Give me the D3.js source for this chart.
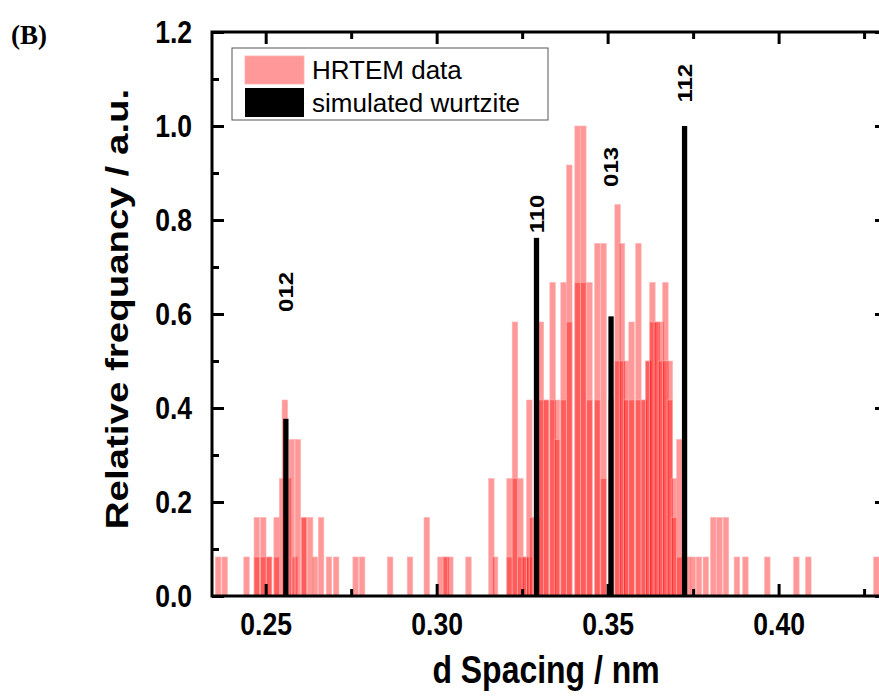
<!DOCTYPE html>
<html>
<head>
<meta charset="utf-8">
<script src="https://cdn.jsdelivr.net/npm/d3@7"></script>
<style>
body { margin: 0; background: #fff; }
</style>
</head>
<body>
<svg id="chart" width="879" height="698" font-family="Arial, 'Liberation Sans', Helvetica, sans-serif"></svg>
<script>
// HRTEM d spacings (nm) and relative frequency. Bars are translucent and
// some bins carry two entries, which is what makes the darker cores.
const hrtemD = [
    0.2361, 0.2380, 0.2444, 0.2474, 0.2474, 0.2493, 0.2493, 0.2510, 0.2510,
    0.2532, 0.2532, 0.2548, 0.2556, 0.2566, 0.2576, 0.2585, 0.2594, 0.2612,
    0.2612, 0.2630, 0.2644, 0.2662, 0.2685, 0.2706, 0.2763, 0.2782,
    0.2864, 0.2922, 0.2971, 0.3011, 0.3027, 0.3027, 0.3040, 0.3093, 0.3160,
    0.3171,
    0.3213, 0.3213, 0.3229, 0.3229, 0.3245, 0.3245, 0.3258, 0.3258, 0.3271,
    0.3271, 0.3279, 0.3292, 0.3305, 0.3305, 0.3320, 0.3320, 0.3339, 0.3339,
    0.3352, 0.3352, 0.3371, 0.3371, 0.3388, 0.3388, 0.3412, 0.3412, 0.3429,
    0.3429, 0.3447, 0.3447, 0.3470, 0.3470, 0.3488, 0.3488, 0.3510, 0.3529,
    0.3529, 0.3542, 0.3542, 0.3554, 0.3554, 0.3570, 0.3570, 0.3590, 0.3590,
    0.3606, 0.3606, 0.3619, 0.3619, 0.3631, 0.3631, 0.3644, 0.3644, 0.3656,
    0.3656, 0.3669, 0.3669, 0.3682, 0.3682, 0.3694, 0.3694, 0.3710, 0.3710,
    0.3735, 0.3749, 0.3767, 0.3787, 0.3809, 0.3827, 0.3846, 0.3878, 0.3903,
    0.3967, 0.4052, 0.4087, 0.4286
];
const hrtemF = [
    0.083, 0.083, 0.083, 0.167, 0.083, 0.167, 0.083, 0.083, 0.083,
    0.167, 0.083, 0.25, 0.417, 0.25, 0.333, 0.083, 0.333, 0.167,
    0.167, 0.167, 0.083, 0.167, 0.083, 0.083, 0.083, 0.083,
    0.083, 0.083, 0.167, 0.083, 0.083, 0.083, 0.083, 0.083, 0.25,
    0.083,
    0.25, 0.083, 0.583, 0.25, 0.25, 0.083, 0.083, 0.083, 0.417,
    0.083, 0.167, 0.167, 0.583, 0.417, 0.417, 0.417, 0.667, 0.417,
    0.417, 0.333, 0.667, 0.417, 0.917, 0.583, 1.0, 0.667, 1.0,
    0.667, 0.667, 0.417, 0.75, 0.417, 0.75, 0.25, 0.417, 0.833,
    0.5, 0.75, 0.5, 0.5, 0.417, 0.583, 0.417, 0.75, 0.417,
    0.417, 0.417, 0.5, 0.5, 0.667, 0.583, 0.583, 0.583, 0.583,
    0.5, 0.667, 0.5, 0.5, 0.417, 0.25, 0.167, 0.333, 0.083,
    0.083, 0.083, 0.083, 0.083, 0.167, 0.167, 0.167, 0.083, 0.083,
    0.083, 0.083, 0.083, 0.083
];

// simulated wurtzite reflections
const wurtziteD = [0.2559, 0.3292, 0.3510, 0.3725];
const wurtziteF = [0.377, 0.762, 0.595, 1.0];
const wurtziteHkl = ["012", "110", "013", "112"];

const xMajor = [0.25, 0.30, 0.35, 0.40];
const xMinor = [0.275, 0.325, 0.375, 0.425];
const yMajor = [0, 0.2, 0.4, 0.6, 0.8, 1.0, 1.2];
const yMinor = [0.1, 0.3, 0.5, 0.7, 0.9, 1.1];

const binW = 0.0016;
const lineW = 0.00155;
const squeeze = 0.83; // the bold lettering in the original is narrow and tall

const svg = d3.select("#chart");
const plotL = 212, plotR = 887, plotT = 32, plotB = 596;

const x = d3.scaleLinear().domain([0.2343, 0.4317]).range([plotL, plotR]);
const y = d3.scaleLinear().domain([0, 1.2]).range([plotB, plotT]);

const bars = hrtemD.map((d, i) => ({ d: d, f: hrtemF[i] }));

svg.append("g")
    .selectAll("rect")
    .data(bars)
    .join("rect")
    .attr("x", b => x(b.d - binW / 2))
    .attr("y", b => y(b.f))
    .attr("width", b => x(b.d + binW / 2) - x(b.d - binW / 2))
    .attr("height", b => y(0) - y(b.f))
    .attr("fill", "rgba(255,0,0,0.4)")
    .attr("stroke", "rgba(255,175,175,0.8)")
    .attr("stroke-width", 0.7);

const peaks = wurtziteD.map((d, i) => ({ d: d, f: wurtziteF[i], hkl: wurtziteHkl[i] }));

svg.append("g")
    .selectAll("rect")
    .data(peaks)
    .join("rect")
    .attr("x", p => x(p.d - lineW / 2))
    .attr("y", p => y(p.f))
    .attr("width", p => x(p.d + lineW / 2) - x(p.d - lineW / 2))
    .attr("height", p => y(0) - y(p.f))
    .attr("fill", "#000");

// hkl labels sit at different heights above each line
const labelAt = [0.647, 0.813, 0.913, 1.091];
svg.append("g")
    .selectAll("text")
    .data(peaks)
    .join("text")
    .attr("transform", (p, i) => `translate(${x(p.d)},${y(labelAt[i])}) rotate(-90) scale(1,${squeeze})`)
    .attr("text-anchor", "middle")
    .attr("dy", "0.36em")
    .attr("font-size", 24)
    .attr("font-weight", "bold")
    .text(p => p.hkl);

// axes, ticks pointing inward
function styleAxis(g) {
    g.select(".domain").remove();
    g.selectAll(".tick line").attr("stroke", "#000").attr("stroke-width", 3);
    g.selectAll(".tick text")
        .attr("fill", "#000")
        .attr("font-size", 32)
        .attr("font-weight", "bold")
        .attr("font-family", "Arial, 'Liberation Sans', sans-serif")
        .attr("transform", `scale(${squeeze},1)`);
}

svg.append("g").attr("transform", `translate(0,${plotB})`)
    .call(d3.axisBottom(x).tickValues(xMajor).tickSize(-12).tickPadding(16).tickFormat(d3.format(".2f")))
    .call(styleAxis);
svg.append("g").attr("transform", `translate(0,${plotB})`)
    .call(d3.axisBottom(x).tickValues(xMinor).tickSize(-7).tickFormat(""))
    .call(styleAxis);
svg.append("g").attr("transform", `translate(0,${plotT})`)
    .call(d3.axisTop(x).tickValues(xMajor).tickSize(-12).tickFormat(""))
    .call(styleAxis);
svg.append("g").attr("transform", `translate(0,${plotT})`)
    .call(d3.axisTop(x).tickValues(xMinor).tickSize(-7).tickFormat(""))
    .call(styleAxis);

svg.append("g").attr("transform", `translate(${plotL},0)`)
    .call(d3.axisLeft(y).tickValues(yMajor).tickSize(-12).tickPadding(24).tickFormat(d3.format(".1f")))
    .call(styleAxis);
svg.append("g").attr("transform", `translate(${plotL},0)`)
    .call(d3.axisLeft(y).tickValues(yMinor).tickSize(-7).tickFormat(""))
    .call(styleAxis);
svg.append("g").attr("transform", `translate(${plotR},0)`)
    .call(d3.axisRight(y).tickValues(yMajor).tickSize(-12).tickFormat(""))
    .call(styleAxis);
svg.append("g").attr("transform", `translate(${plotR},0)`)
    .call(d3.axisRight(y).tickValues(yMinor).tickSize(-7).tickFormat(""))
    .call(styleAxis);

svg.append("rect")
    .attr("x", plotL).attr("y", plotT)
    .attr("width", plotR - plotL).attr("height", plotB - plotT)
    .attr("fill", "none").attr("stroke", "#000").attr("stroke-width", 3);

// axis titles
svg.append("text")
    .attr("transform", `translate(128,309) rotate(-90) scale(1,${squeeze})`)
    .attr("text-anchor", "middle")
    .attr("font-size", 38.5)
    .attr("font-weight", "bold")
    .text("Relative frequancy / a.u.");

svg.append("text")
    .attr("transform", `translate(546,683) scale(${squeeze},1)`)
    .attr("text-anchor", "middle")
    .attr("font-size", 38.5)
    .attr("font-weight", "bold")
    .text("d Spacing / nm");

svg.append("text")
    .attr("x", 11).attr("y", 44)
    .attr("font-family", "'Liberation Serif', 'Times New Roman', serif")
    .attr("font-size", 27)
    .attr("font-weight", "bold")
    .text("(B)");

// legend
const legend = svg.append("g");
legend.append("rect")
    .attr("x", 232).attr("y", 48).attr("width", 316).attr("height", 72)
    .attr("fill", "#fff").attr("stroke", "#555").attr("stroke-width", 1);
legend.append("rect")
    .attr("x", 245).attr("y", 56).attr("width", 59).attr("height", 28)
    .attr("fill", "rgba(255,0,0,0.4)").attr("stroke", "rgba(255,175,175,0.8)");
legend.append("rect")
    .attr("x", 245).attr("y", 88).attr("width", 59).attr("height", 29)
    .attr("fill", "#000");
legend.append("text")
    .attr("x", 312).attr("y", 79)
    .attr("font-size", 26)
    .text("HRTEM data");
legend.append("text")
    .attr("x", 312).attr("y", 112)
    .attr("font-size", 26)
    .text("simulated wurtzite");
</script>
</body>
</html>
